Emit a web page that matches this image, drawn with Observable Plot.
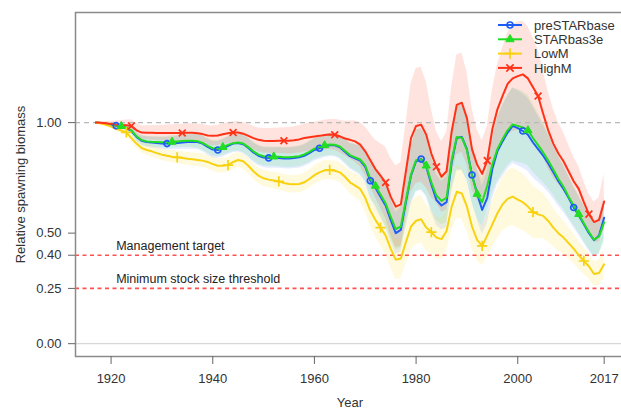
<!DOCTYPE html>
<html><head><meta charset="utf-8">
<script src="https://cdn.jsdelivr.net/npm/d3@7"></script>
<script src="https://cdn.jsdelivr.net/npm/@observablehq/plot@0.6"></script>
<style>
html,body{margin:0;padding:0;background:#fff;overflow:hidden}
#wrap{position:relative;width:621px;height:411px}
#legend{position:absolute;left:0;top:0;pointer-events:none}
</style></head><body><div id="wrap"></div>
<script>
const years = d3.range(1917, 2018);
const seriesNames = ["preSTARbase", "STARbas3e", "LowM", "HighM"];
const seriesColors = ["#1e5cf5", "#22dd22", "#f8d210", "#ff3218"];
const bandColors = ["#2060ff", "#22dd22", "#ffe030", "#ff4020"];
const seriesSymbols = ["circle", "triangle", "plus", "times"];

const preSTARbase = [1.000,0.998,0.995,0.990,0.986,0.982,0.975,0.962,
0.935,0.918,0.912,0.910,0.908,0.906,0.905,0.906,0.908,0.910,
0.912,0.913,0.912,0.905,0.890,0.878,0.876,0.884,0.895,0.905,
0.908,0.902,0.885,0.865,0.850,0.842,0.840,0.840,0.840,0.838,
0.838,0.840,0.843,0.850,0.862,0.876,0.884,0.893,0.898,0.897,
0.888,0.868,0.848,0.838,0.828,0.800,0.737,0.705,0.665,0.625,
0.560,0.500,0.515,0.640,0.760,0.825,0.835,0.800,0.720,0.650,
0.625,0.640,0.820,0.930,0.935,0.880,0.763,0.680,0.605,0.660,
0.790,0.870,0.915,0.955,0.985,0.975,0.962,0.945,0.910,0.880,
0.850,0.815,0.775,0.735,0.700,0.660,0.616,0.580,0.540,0.500,
0.468,0.490,0.570];
const STARbas3e = [1.000,0.998,0.995,0.991,0.987,0.984,0.977,0.965,
0.938,0.921,0.915,0.913,0.912,0.911,0.911,0.913,0.915,0.917,
0.918,0.918,0.916,0.908,0.895,0.884,0.883,0.889,0.899,0.907,
0.910,0.905,0.889,0.870,0.855,0.848,0.846,0.846,0.845,0.843,
0.843,0.845,0.848,0.856,0.868,0.882,0.890,0.897,0.901,0.900,
0.892,0.873,0.853,0.843,0.833,0.806,0.745,0.714,0.675,0.635,
0.575,0.518,0.530,0.650,0.765,0.830,0.834,0.805,0.730,0.670,
0.646,0.660,0.830,0.935,0.932,0.875,0.760,0.677,0.640,0.715,
0.810,0.880,0.925,0.965,0.992,0.985,0.978,0.965,0.930,0.898,
0.865,0.828,0.788,0.745,0.710,0.665,0.625,0.586,0.545,0.505,
0.470,0.485,0.548];
const LowM = [1.000,0.996,0.990,0.982,0.972,0.964,0.956,0.930,
0.905,0.885,0.876,0.870,0.862,0.855,0.850,0.846,0.843,0.840,
0.836,0.834,0.831,0.828,0.822,0.812,0.805,0.805,0.808,0.822,
0.831,0.825,0.805,0.780,0.760,0.748,0.742,0.738,0.734,0.727,
0.722,0.721,0.722,0.730,0.745,0.762,0.775,0.784,0.786,0.782,
0.775,0.755,0.730,0.715,0.700,0.660,0.601,0.560,0.525,0.490,
0.430,0.380,0.385,0.460,0.530,0.556,0.563,0.525,0.505,0.480,
0.473,0.510,0.620,0.687,0.680,0.620,0.530,0.470,0.442,0.490,
0.540,0.590,0.630,0.655,0.665,0.652,0.640,0.620,0.595,0.585,
0.578,0.555,0.525,0.500,0.480,0.455,0.430,0.400,0.374,0.350,
0.315,0.320,0.359];
const HighM = [1.000,0.999,0.997,0.994,0.991,0.989,0.988,0.985,
0.965,0.955,0.954,0.954,0.953,0.953,0.953,0.953,0.953,0.953,
0.954,0.954,0.952,0.948,0.942,0.940,0.942,0.947,0.952,0.955,
0.955,0.950,0.940,0.930,0.922,0.918,0.917,0.917,0.918,0.918,
0.918,0.920,0.924,0.930,0.934,0.937,0.940,0.944,0.946,0.945,
0.938,0.928,0.922,0.915,0.900,0.870,0.830,0.790,0.760,0.729,
0.665,0.620,0.630,0.780,0.930,0.985,0.990,0.945,0.860,0.800,
0.755,0.780,0.960,1.080,1.090,1.020,0.880,0.810,0.768,0.828,
0.970,1.060,1.120,1.175,1.200,1.210,1.218,1.200,1.160,1.120,
1.040,0.965,0.905,0.860,0.825,0.780,0.735,0.700,0.640,0.586,
0.550,0.560,0.643];

// half-widths of the shaded uncertainty bands, per year
const bandPreSTARbase = [0.000,0.002,0.004,0.006,0.008,0.010,0.012,0.015,
0.020,0.022,0.024,0.025,0.026,0.027,0.028,0.029,0.030,0.031,
0.032,0.033,0.034,0.035,0.036,0.037,0.038,0.039,0.040,0.040,
0.041,0.042,0.043,0.044,0.045,0.045,0.046,0.046,0.047,0.047,
0.048,0.048,0.049,0.049,0.050,0.050,0.050,0.051,0.051,0.052,
0.053,0.055,0.058,0.062,0.066,0.072,0.080,0.088,0.095,0.100,
0.100,0.095,0.100,0.115,0.130,0.140,0.140,0.135,0.125,0.115,
0.110,0.115,0.135,0.150,0.150,0.140,0.125,0.115,0.110,0.120,
0.135,0.150,0.160,0.165,0.170,0.170,0.168,0.165,0.160,0.150,
0.140,0.130,0.120,0.112,0.105,0.098,0.092,0.088,0.085,0.080,
0.078,0.082,0.095];
const bandSTARbas3e = [0.000,0.002,0.004,0.006,0.008,0.010,0.012,0.014,
0.018,0.020,0.022,0.023,0.024,0.025,0.026,0.027,0.028,0.029,
0.030,0.031,0.032,0.033,0.034,0.035,0.036,0.037,0.038,0.038,
0.039,0.040,0.041,0.042,0.043,0.043,0.044,0.044,0.045,0.045,
0.046,0.046,0.047,0.047,0.048,0.048,0.048,0.049,0.049,0.050,
0.051,0.053,0.056,0.060,0.064,0.070,0.078,0.086,0.093,0.098,
0.098,0.093,0.098,0.112,0.128,0.138,0.138,0.132,0.122,0.112,
0.108,0.112,0.132,0.146,0.146,0.136,0.122,0.112,0.108,0.116,
0.130,0.145,0.155,0.160,0.165,0.165,0.163,0.160,0.155,0.146,
0.136,0.126,0.116,0.108,0.101,0.095,0.089,0.085,0.082,0.078,
0.076,0.080,0.092];
const bandLowM = [0.000,0.003,0.006,0.009,0.012,0.015,0.018,0.020,
0.022,0.023,0.024,0.025,0.026,0.027,0.027,0.028,0.028,0.029,
0.029,0.030,0.030,0.031,0.031,0.032,0.032,0.033,0.033,0.034,
0.034,0.035,0.035,0.036,0.036,0.037,0.037,0.038,0.038,0.039,
0.039,0.040,0.040,0.041,0.041,0.042,0.042,0.043,0.043,0.044,
0.045,0.047,0.050,0.054,0.058,0.064,0.070,0.076,0.082,0.086,
0.088,0.090,0.092,0.098,0.105,0.108,0.108,0.105,0.100,0.095,
0.092,0.095,0.108,0.118,0.118,0.112,0.102,0.094,0.090,0.095,
0.105,0.115,0.122,0.128,0.130,0.130,0.128,0.124,0.118,0.110,
0.102,0.095,0.088,0.082,0.076,0.071,0.067,0.063,0.060,0.058,
0.056,0.058,0.065];
const bandHighM = [0.000,0.004,0.008,0.012,0.016,0.020,0.024,0.028,
0.030,0.031,0.032,0.033,0.034,0.035,0.036,0.037,0.038,0.039,
0.040,0.041,0.042,0.043,0.044,0.045,0.046,0.047,0.048,0.049,
0.050,0.051,0.052,0.053,0.054,0.055,0.056,0.057,0.058,0.059,
0.060,0.061,0.062,0.063,0.064,0.065,0.066,0.067,0.068,0.070,
0.073,0.078,0.085,0.093,0.100,0.110,0.120,0.130,0.145,0.160,
0.175,0.185,0.190,0.215,0.245,0.260,0.260,0.240,0.200,0.160,
0.160,0.175,0.200,0.225,0.225,0.210,0.185,0.160,0.150,0.155,
0.175,0.200,0.215,0.230,0.240,0.245,0.240,0.235,0.225,0.210,
0.195,0.175,0.155,0.140,0.130,0.120,0.110,0.100,0.095,0.090,
0.090,0.100,0.125];

const markerYears = [
  [1921,1931,1941,1951,1961,1971,1981,1991,2001,2011],
  [1922,1932,1942,1952,1962,1972,1982,1992,2002,2012],
  [1923,1933,1943,1953,1963,1973,1983,1993,2003,2013],
  [1924,1934,1944,1954,1964,1974,1984,1994,2004,2014]
];

const yTicks = [0, 0.25, 0.4, 0.5, 1];
const xTicks = [1920, 1940, 1960, 1980, 2000, 2017];
const refValues = [0.4, 0.25];
const refLabels = ["Management target", "Minimum stock size threshold"];
const labelYear = 1921;

const values = [preSTARbase, STARbas3e, LowM, HighM];
const bands = [bandPreSTARbase, bandSTARbas3e, bandLowM, bandHighM];
const markerR = [3.0, 3.0, 3.4, 3.2];
const legendSize = [28, 30, 40, 36];

const rows = seriesNames.map((name, i) => years.map((year, j) => ({
  series: name, year, value: values[i][j],
  lo: values[i][j] - bands[i][j], hi: values[i][j] + bands[i][j]
})));

const marks = [];
marks.push(Plot.ruleY([0], {stroke: "#d8d8d8", strokeWidth: 1.2}));
rows.forEach((r, i) => marks.push(Plot.areaY(r, {x: "year", y1: "lo", y2: "hi", fill: bandColors[i], fillOpacity: i === 3 ? 0.15 : (i === 2 ? 0.16 : 0.12)})));
marks.push(Plot.ruleY([1], {stroke: "#b8b8b8", strokeWidth: 1.2, strokeDasharray: "5,4"}));
marks.push(Plot.ruleY(refValues, {stroke: "#ff5050", strokeWidth: 1.6, strokeDasharray: "4,3.5"}));
marks.push(Plot.text(refLabels.map((t, i) => ({t, v: refValues[i]})), {x: () => labelYear, y: "v", text: "t", textAnchor: "start", dy: -9, fontSize: 12.5, fill: "#222"}));
rows.forEach((r, i) => marks.push(Plot.line(r, {x: "year", y: "value", stroke: seriesColors[i], strokeWidth: 2})));
rows.forEach((r, i) => {
  const m = r.filter(d => markerYears[i].includes(d.year));
  const filled = seriesSymbols[i] === "triangle";
  marks.push(Plot.dot(m, {x: "year", y: "value", symbol: () => seriesSymbols[i],
    r: markerR[i],
    fill: filled ? seriesColors[i] : "none", stroke: seriesColors[i], strokeWidth: filled ? 1 : 1.7}));
});
marks.push(Plot.frame({stroke: "#8a8a8a", strokeWidth: 1.5}));
marks.push(Plot.axisY({ticks: yTicks, tickFormat: d3.format(".2f"), tickSize: 7, tickPadding: 7, fontSize: 13, stroke: "#666",
  label: "Relative spawning biomass", labelAnchor: "center", labelOffset: 60, labelArrow: "none"}));
marks.push(Plot.axisX({ticks: xTicks, tickFormat: d3.format("d"), tickSize: 8, tickPadding: 9, fontSize: 13, stroke: "#666",
  label: "Year", labelAnchor: "center", labelOffset: 50, labelArrow: "none"}));

const chart = Plot.plot({
  width: 621, height: 411,
  marginLeft: 75, marginRight: -3, marginTop: 12, marginBottom: 55,
  x: {domain: [1913, 2021]},
  y: {domain: [-0.058, 1.498]},
  style: {fontFamily: "Liberation Sans, Arial, sans-serif", fontSize: "13px", color: "#333", background: "#fff"},
  marks
});
const wrap = document.getElementById("wrap");
wrap.appendChild(chart);

// legend overlay (no box)
const lg = d3.select(wrap).append("svg").attr("id", "legend").attr("width", 621).attr("height", 411)
  .style("font-family", "Liberation Sans, Arial, sans-serif");
const lx0 = 498, lx1 = 522, ltx = 534, ly0 = 25, ldy = 14.3;
seriesNames.forEach((name, i) => {
  const y = ly0 + i * ldy;
  const g = lg.append("g");
  g.append("line").attr("x1", lx0).attr("x2", lx1).attr("y1", y).attr("y2", y).attr("stroke", seriesColors[i]).attr("stroke-width", 2);
  const sym = {circle: d3.symbolCircle, triangle: d3.symbolTriangle, plus: d3.symbolPlus, times: d3.symbolTimes}[seriesSymbols[i]];
  g.append("path").attr("d", d3.symbol(sym, legendSize[i])()).attr("transform", `translate(${(lx0 + lx1) / 2},${y})`)
    .attr("fill", i === 1 ? seriesColors[i] : "none").attr("stroke", seriesColors[i]).attr("stroke-width", i === 1 ? 1 : 1.7);
  g.append("text").attr("x", ltx).attr("y", y + 4.6).attr("font-size", 13).attr("fill", "#333").text(name);
});
</script></body></html>
